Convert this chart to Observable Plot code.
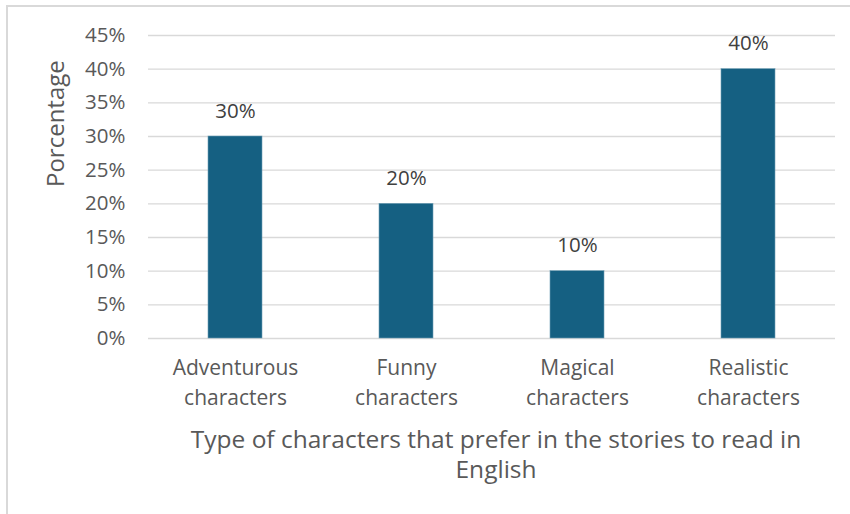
<!DOCTYPE html>
<html>
<head>
<meta charset="utf-8">
<script src="https://cdn.jsdelivr.net/npm/d3@7"></script>
<script src="https://cdn.jsdelivr.net/npm/@observablehq/plot@0.6"></script>
<style>
  html, body { margin: 0; padding: 0; background: #fff; overflow: hidden; }
  #wrap { position: relative; width: 850px; height: 514px; }
  #border { position: absolute; left: 6px; top: 5px; width: 900px; height: 600px; border: 2px solid #d9d9d9; box-sizing: border-box; }
  #chart { position: absolute; left: 0; top: 0; }
</style>
</head>
<body>
<div id="wrap"><div id="border"></div><div id="chart"></div></div>
<script>
const categories = ["Adventurous\ncharacters", "Funny\ncharacters", "Magical\ncharacters", "Realistic\ncharacters"];
const values = [0.30, 0.20, 0.10, 0.40];
const yTicks = [0, 0.05, 0.10, 0.15, 0.20, 0.25, 0.30, 0.35, 0.40, 0.45];
const yLabel = "Porcentage";
const xTitle = "Type of characters that prefer in the stories to read in\nEnglish";

const data = categories.map((c, i) => ({category: c, value: values[i]}));
const font = "'Open Sans', 'Liberation Sans', Arial, sans-serif";
const pct = d => Math.round(d * 100) + "%";

const chart = Plot.plot({
  width: 850,
  height: 514,
  marginTop: 35,
  marginBottom: 176,
  marginLeft: 148,
  marginRight: 15,
  style: {fontFamily: font, background: "transparent", overflow: "visible"},
  x: {domain: categories, paddingInner: 0.686, paddingOuter: 0.343, label: null},
  y: {domain: [0, 0.45], label: null},
  marks: [
    Plot.gridY(yTicks, {stroke: "#d9d9d9", strokeOpacity: 1, strokeWidth: 1.3}),
    Plot.barY(data, {x: "category", y: "value", fill: "#156082", stroke: "#6f9fb5", strokeWidth: 0.6}),
    Plot.text(data, {x: "category", y: "value", text: d => pct(d.value), lineAnchor: "bottom", dy: -19, fontSize: 20.5, fill: "#404040"}),
    Plot.axisY(yTicks, {tickSize: 0, tickPadding: 23, tickFormat: pct, fontSize: 20.5, fill: "#595959", label: null}),
    Plot.axisX({tickSize: 0, tickPadding: 15, fontSize: 21, fill: "#595959", lineHeight: 1.43, label: null}),
    Plot.text([yLabel], {frameAnchor: "left", dx: -92, rotate: -90, fontSize: 24, fill: "#595959"}),
    Plot.text([xTitle], {frameAnchor: "bottom", dx: 4, dy: 115, lineAnchor: "middle", lineHeight: 1.23, fontSize: 24.5, fill: "#595959"})
  ]
});
document.getElementById("chart").append(chart);
</script>
</body>
</html>
